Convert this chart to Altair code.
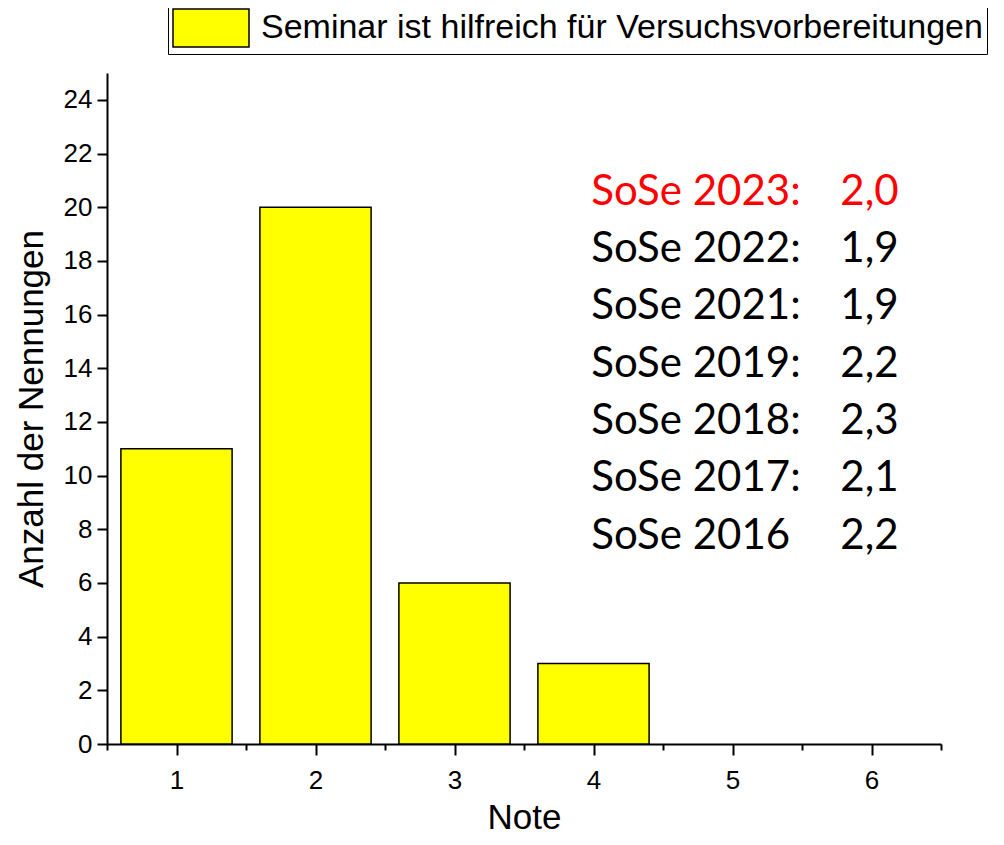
import altair as alt
import pandas as pd

# ---- data ----
notes = [1, 2, 3, 4, 5, 6]
counts = [11, 20, 6, 3, 0, 0]
series_name = "Seminar ist hilfreich für Versuchsvorbereitungen"

semesters = ["SoSe 2023:", "SoSe 2022:", "SoSe 2021:", "SoSe 2019:",
             "SoSe 2018:", "SoSe 2017:", "SoSe 2016"]
means = ["2,0", "1,9", "1,9", "2,2", "2,3", "2,1", "2,2"]
text_colors = ["#ff0000", "black", "black", "black", "black", "black", "black"]

x_ticks = [0.5, 1, 1.5, 2, 2.5, 3, 3.5, 4, 4.5, 5, 5.5, 6, 6.5]
y_ticks = list(range(0, 26))

bars_df = pd.DataFrame({"Note": notes, "Anzahl": counts, "Serie": [series_name] * len(notes)})
ann_df = pd.DataFrame({"Semester": semesters, "Mittel": means, "Farbe": text_colors,
                       "Zeile": list(range(len(semesters)))})

FONT = "Liberation Sans"
x_scale = alt.Scale(domain=[0.5, 6.5], nice=False, zero=False)
y_scale = alt.Scale(domain=[0, 25], nice=False)

x_axis = alt.Axis(
    values=x_ticks,
    title="Note",
    labelExpr="datum.value % 1 == 0 ? format(datum.value, 'd') : ''",
    tickSize={"condition": {"test": "datum.value % 1 == 0", "value": 11}, "value": 6},
    tickWidth=2, tickColor="black", domainWidth=2, domainColor="black",
    labelFont=FONT, labelFontSize=26, labelColor="black", labelPadding=12,
    titleFont=FONT, titleFontSize=35, titleFontWeight="normal", titleColor="black",
    titleX=417, titleY=84, titleBaseline="alphabetic", titleAlign="center",
    grid=False, labelFlush=False,
)
y_axis = alt.Axis(
    values=y_ticks,
    title="Anzahl der Nennungen",
    labelExpr="datum.value % 2 == 0 ? format(datum.value, 'd') : ''",
    tickSize={"condition": {"test": "datum.value % 2 == 0", "value": 10}, "value": 5},
    tickWidth=2, tickColor="black", domainWidth=2, domainColor="black",
    labelFont=FONT, labelFontSize=26, labelColor="black", labelPadding=5,
    titleFont=FONT, titleFontSize=35, titleFontWeight="normal", titleColor="black",
    titleX=-65, titleY=335.5, titleAngle=270, titleBaseline="alphabetic", titleAlign="center",
    grid=False, labelFlush=False,
)

bars = alt.Chart(bars_df).transform_filter("datum.Anzahl > 0").transform_calculate(
    x0="datum.Note - 0.4", x1="datum.Note + 0.4"
).mark_bar(stroke="black", strokeWidth=1.5).encode(
    x=alt.X("x0:Q", scale=x_scale, axis=x_axis),
    x2="x1:Q",
    y=alt.Y("Anzahl:Q", scale=y_scale, axis=y_axis),
    y2=alt.datum(0),
    fill=alt.Fill(
        "Serie:N",
        scale=alt.Scale(range=["#ffff00"]),
        legend=alt.Legend(
            title=None, orient="none", legendX=61, legendY=-69,
            strokeColor="black", padding=4,
            symbolType="M-2,-1H2V1H-2Z", symbolSize=1444, symbolOffset=19,
            symbolStrokeColor="black", symbolStrokeWidth=1.5,
            labelFont=FONT, labelFontSize=34, labelOffset=30, labelLimit=1000,
            labelColor="black",
        ),
    ),
)

ann_base = alt.Chart(ann_df).transform_calculate(ypos="20.09 - 2.135 * datum.Zeile")
ann_labels = ann_base.mark_text(align="left", baseline="alphabetic", font="Lato", fontSize=42).encode(
    x=alt.datum(3.984),
    y=alt.Y("ypos:Q", scale=y_scale, title="Anzahl der Nennungen"),
    text="Semester:N",
    color=alt.Color("Farbe:N", scale=None),
)
ann_values = ann_base.mark_text(align="right", baseline="alphabetic", font="Lato", fontSize=42).encode(
    x=alt.datum(6.195),
    y=alt.Y("ypos:Q", scale=y_scale, title="Anzahl der Nennungen"),
    text="Mittel:N",
    color=alt.Color("Farbe:N", scale=None),
)

chart = alt.layer(bars, ann_labels, ann_values).properties(
    width=834, height=671,
    autosize=alt.AutoSizeParams(type="none"),
    padding={"left": 99, "top": 65, "right": 55, "bottom": 92},
).configure_view(strokeWidth=0)

chart.save("out.html", embed_options={"renderer": "svg", "actions": False})
